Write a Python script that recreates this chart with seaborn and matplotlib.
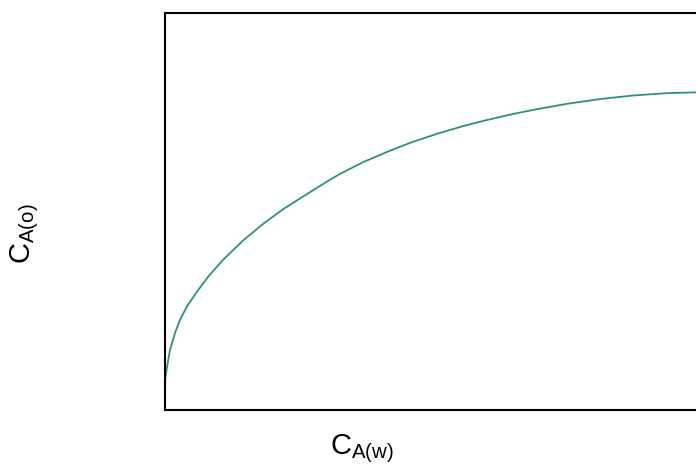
import matplotlib
matplotlib.use("Agg")
import matplotlib.pyplot as plt
import seaborn as sns
import pandas as pd

# Concentration of A in the water phase and the matching organic-phase concentration
c_water = [0.000, 0.006, 0.032, 0.093, 0.187, 0.280, 0.406, 0.593, 0.809, 1.090,
           1.464, 1.837, 2.211, 2.585, 3.022, 3.271, 3.707, 4.144, 4.579, 5.079,
           5.576, 6.013, 6.449, 6.884, 7.508, 8.131, 8.753, 9.378, 9.925]
c_organic = [0.504, 0.781, 1.033, 1.511, 1.940, 2.267, 2.602, 2.972, 3.363, 3.791,
             4.277, 4.693, 5.063, 5.383, 5.751, 5.950, 6.247, 6.499, 6.730, 6.957,
             7.154, 7.305, 7.441, 7.562, 7.713, 7.834, 7.924, 7.982, 8.003]

df = pd.DataFrame({"c_water": c_water, "c_organic": c_organic})

sns.set_theme(style="white")
plt.rcParams["font.family"] = ["Liberation Sans", "DejaVu Sans"]
plt.rcParams["mathtext.fontset"] = "custom"
plt.rcParams["mathtext.rm"] = "Liberation Sans"
plt.rcParams["mathtext.it"] = "Liberation Sans"

fig = plt.figure(figsize=(6.96, 4.65), dpi=100)
ax = fig.add_axes([0.237, 0.118, 0.769, 0.854])

sns.lineplot(data=df, x="c_water", y="c_organic", ax=ax, color="#2f9566",
             linewidth=1.3, sort=False, solid_joinstyle="round",
             solid_capstyle="round")

ax.set_xlim(0, 10)
ax.set_ylim(0, 10)
ax.set_xticks([])
ax.set_yticks([])
for side in ["left", "bottom", "top", "right"]:
    ax.spines[side].set_visible(True)
    ax.spines[side].set_color("black")
    ax.spines[side].set_linewidth(1.5)

ax.set_xlabel(r"$\mathregular{C_{A(w)}}$", fontsize=21, color="black")
ax.xaxis.set_label_coords(0.368, -0.055)
ax.set_ylabel(r"$\mathregular{C_{A(o)}}$", fontsize=21, color="black")
ax.yaxis.set_label_coords(-0.232, 0.443)

fig.savefig("out.png", dpi=100)
